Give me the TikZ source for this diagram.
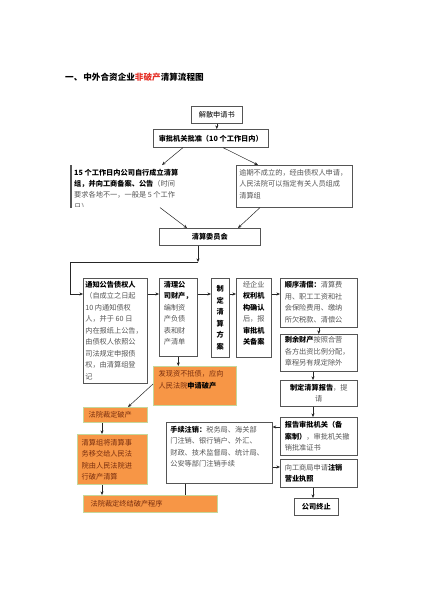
\documentclass[tikz,border=0pt]{standalone}
\usepackage{fontspec}
\setmainfont{Noto Sans CJK SC}
\usetikzlibrary{arrows.meta}
\definecolor{frame}{HTML}{555555}
\definecolor{orangef}{HTML}{F79646}
\definecolor{orangeb}{HTML}{C4D79B}
\definecolor{ortext}{HTML}{7A2E0E}
\definecolor{gtext}{HTML}{555555}
\definecolor{tred}{HTML}{E53128}
\newcommand{\B}[1]{{\bfseries\color{black}#1}}
\newcommand{\TB}[4]{\parbox[c][#2pt][#3]{#1pt}{#4}}
\tikzset{
  wbox/.style={draw=frame, line width=0.6pt, fill=white, anchor=north west,
    inner xsep=0pt, inner ysep=0pt, font=\fontsize{7.2}{11.5}\selectfont, text=gtext},
  obox/.style={wbox, fill=orangef, draw=orangeb, line width=1.3pt, text=ortext},
  arr/.style={-{Stealth[length=3.6pt,width=3pt]}, line width=0.5pt, draw=black!85},
  ln/.style={line width=0.5pt, draw=black!85}
}
\begin{document}
\begin{tikzpicture}[x=1pt,y=-1pt]
\useasboundingbox (0,0) rectangle (422,598);
\fill[white] (0,0) rectangle (422,598);

\node[anchor=west, inner sep=0pt, font=\fontsize{8.6}{10}\selectfont\bfseries] (title) at (65,77)
  {一、\hspace{1pt}中外合资企业\textcolor{tred}{非破产}清算流程图};

% top part
\node[wbox] (b1) at (191,106) {\TB{51}{17}{c}{\centering\color{black}解散申请书}};
\node[wbox] (b2) at (153,129) {\TB{115}{18}{c}{\centering\B{审批机关批准（10 个工作日内）}}};
\node[wbox] (b3) at (70,165) {\TB{114}{42}{t}{}};
\begin{scope}
  \clip (70.5,165.5) rectangle (183.5,206.5);
  \node[anchor=north west, inner sep=0pt, font=\fontsize{7.2}{11.2}\selectfont, text=gtext] (b3t)
    at ([shift={(4pt,-4pt)}]b3.north west)
    {\parbox[t]{108pt}{\raggedright\B{15 个工作日内公司自行成立清算}\\\B{组，并向工商备案、公告}（时间\\要求各地不一，一般是 5 个工作\\日）}};
\end{scope}
\node[wbox, inner xsep=3pt] (b4) at (236,165) {\TB{110}{42}{t}{\vspace*{4pt}\raggedright 逾期不成立的，经由债权人申请，\\人民法院可以指定有关人员组成\\清算组}};
\node[wbox] (b5) at (159,228) {\TB{101}{17}{c}{\centering\B{清算委员会}}};

% middle row
\node[wbox, inner xsep=2pt] (b6) at (83,278) {\TB{60}{105}{t}{\vspace*{3pt}\raggedright\B{通知公告债权人}\\（自成立之日起\\10 内通知债权\\人，并于 60 日\\内在报纸上公告，\\由债权人依照公\\司法规定申报债\\权，由清算组登\\记}};
\node[wbox, inner xsep=4.5pt] (b7) at (159,278) {\TB{29}{78}{t}{\vspace*{3pt}\raggedright\B{清理公}\\\B{司财产，}\\编制资\\产负债\\表和财\\产清单}};
\node[wbox] (b8) at (211,278) {\TB{18}{79}{c}{\centering\B{制\\定\\清\\算\\方\\案}}};
\node[wbox] (b9) at (236,278) {\TB{35}{79}{t}{\vspace*{3pt}\centering 经企业\\\B{权利机}\\\B{构确认}\\后，报\\\B{审批机}\\\B{关备案}}};
\node[wbox, inner xsep=4.5pt] (b10) at (280,278) {\TB{68}{49}{t}{\vspace*{3pt}\raggedright\B{顺序清偿：}清算费\\用、职工工资和社\\会保险费用、缴纳\\所欠税款、清偿公}};
\node[wbox, inner xsep=4.5pt] (b11) at (280,334) {\TB{68}{37}{t}{\vspace*{2pt}\raggedright\B{剩余财产}按照合营\\各方出资比例分配，\\章程另有规定除外}};
\node[wbox] (b12) at (280,380) {\TB{77}{26}{c}{\centering\B{制定清算报告}，提\\请}};
\node[wbox, inner xsep=4.5pt] (b13) at (280,417) {\TB{68}{38}{c}{\raggedright\B{报告审批机关（备}\\\B{案制）}，审批机关撤\\销批准证书}};
\node[wbox, inner xsep=4.5pt] (b14) at (280,459) {\TB{68}{28}{c}{\raggedright 向工商局申请\B{注销}\\\B{营业执照}}};
\node[wbox] (b15) at (294,498) {\TB{44}{17}{c}{\centering\B{公司终止}}};
\node[wbox, inner xsep=4pt] (b16) at (166,422) {\TB{98}{61}{t}{\vspace*{4pt}\raggedright\B{手续注销：}税务局、海关部\\门注销、银行销户、外汇、\\财政、技术监督局、统计局、\\公安等部门注销手续}};

% orange boxes
\node[obox, inner xsep=5pt] (b18) at (153,366) {\TB{73}{39}{t}{\vspace*{4pt}\raggedright 发现资不抵债，应向\\人民法院\B{申请破产}}};
\node[obox, inner xsep=5pt] (b19) at (83,407) {\TB{54}{15}{c}{\raggedright 法院裁定破产}};
\node[obox, inner xsep=4pt] (b20) at (77,434) {\TB{62}{50}{c}{\raggedright 清算组将清算事\\务移交给人民法\\院由人民法院进\\行破产清算}};
\node[obox, inner xsep=7pt] (b21) at (83,495) {\TB{120}{17}{c}{\raggedright 法院裁定终结破产程序}};

% connectors
\draw[arr] (b1.south) -- (b1.south |- b2.north);
\draw[arr] ([xshift=30pt]b2.south west) -- ([xshift=92pt]b3.north west);
\draw[arr] ([xshift=70pt]b2.south west) -- ([xshift=22pt]b4.north west);
\draw[arr] ([xshift=90pt]b3.south west) -- ([xshift=28pt]b5.north west);
\draw[arr] ([xshift=24pt]b4.south west) -- ([xshift=79pt]b5.north west);

\coordinate (p5) at ([xshift=39pt]b5.south west);
\coordinate (c1) at (198,262);
\coordinate (c2) at (70,262);
\coordinate (q6) at ([yshift=-16pt]b6.north west);
\draw[arr] (p5) -- (c1);
\draw[arr] (c1) -- (c2) |- (q6);

\draw[arr] ([yshift=-16pt]b6.north east) -- ([yshift=-16pt]b7.north west);
\draw[arr] ([yshift=-16pt]b7.north east) -- ([yshift=-16pt]b8.north west);
\draw[arr] ([yshift=-16pt]b8.north east) -- ([yshift=-16pt]b9.north west);
\draw[arr] ([yshift=-16pt]b9.north east) -- ([yshift=-16pt]b10.north west);

\draw[arr] (b10.south) -- (b10.south |- b11.north);
\coordinate (p11) at ([xshift=33pt]b11.south west);
\draw[arr] (p11) -- (p11 |- b12.north);
\coordinate (p12) at ([xshift=33pt]b12.south west);
\draw[arr] (p12) -- (p12 |- b13.north);
\coordinate (p14) at ([xshift=33pt]b14.south west);
\draw[arr] (p14) -- (p14 |- b15.north);

\coordinate (p13) at ([yshift=-10pt]b13.north west);
\draw[arr] (p13) -- (p13 -| b16.east);
\coordinate (p16) at ([yshift=-45pt]b16.north east);
\draw[arr] (p16) -- (p16 -| b14.west);
\coordinate (p16b) at ([xshift=19pt]b16.south west);
\draw[ln] (p16b) -- (p16b |- b21.north);

\draw[arr] (b7.south) -- (b7.south |- b18.north);
\draw[arr] ([yshift=-18pt]b18.north west) -- ([xshift=45pt]b19.north west);
\coordinate (p19) at ([xshift=19pt]b19.south west);
\draw[arr] (p19) -- (p19 |- b20.north);
\coordinate (p20) at ([xshift=25pt]b20.south west);
\draw[arr] (p20) -- (p20 |- b21.north);
\end{tikzpicture}
\end{document}
